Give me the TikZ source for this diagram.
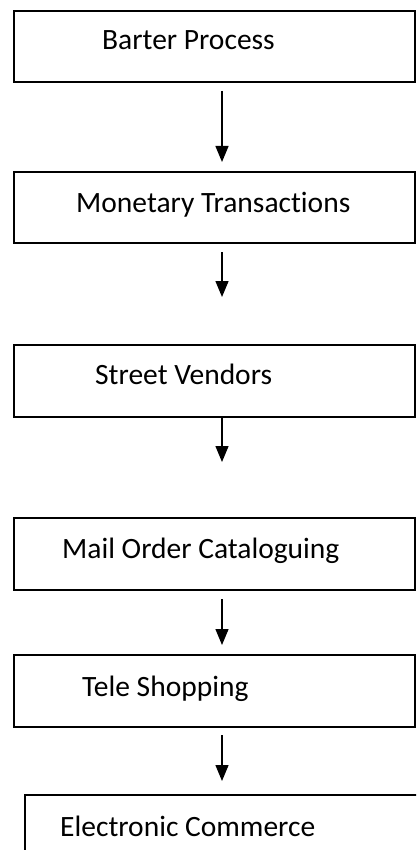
\documentclass[tikz,border=0pt]{standalone}
\usepackage{fontspec}
\setmainfont[Ligatures={NoCommon}]{Carlito}
\usetikzlibrary{arrows.meta}
\begin{document}
\begin{tikzpicture}[x=1pt,y=-1pt,
  box/.style={draw=black,line width=2pt,rectangle,inner sep=0pt},
  lbl/.style={anchor=base west,inner sep=0pt,font=\fontsize{29.5}{35}\selectfont},
  arr/.style={line width=1.4pt,-{Triangle[width=13pt,length=16pt]}}]
\useasboundingbox (0,0) rectangle (416,850);
\clip (0,0) rectangle (416,850);
\coordinate (ax) at (222,0);
\node[box,minimum width=401pt,minimum height=71pt] (b1) at (214.5,46.5) {};
\node[box,minimum width=401pt,minimum height=71pt] (b2) at (214.5,207.5) {};
\node[box,minimum width=401pt,minimum height=72pt] (b3) at (214.5,381) {};
\node[box,minimum width=401pt,minimum height=72pt] (b4) at (214.5,554) {};
\node[box,minimum width=401pt,minimum height=72pt] (b5) at (214.5,691) {};
\node[box,minimum width=410pt,minimum height=80pt] (b6) at (230,835) {};
\node[lbl] (t1) at (102,50) {Barter Process};
\node[lbl] (t2) at (76,212) {Monetary Transactions};
\node[lbl] (t3) at (95,384) {Street Vendors};
\node[lbl] (t4) at (62,558) {Mail Order Cataloguing};
\node[lbl] (t5) at (82,696) {Tele Shopping};
\node[lbl] (t6) at (60,836) {Electronic Commerce};
\draw[arr,shorten <=8pt,shorten >=9pt] (b1.south -| ax) -- (b2.north -| ax);
\draw[arr,shorten <=8pt,shorten >=47pt] (b2.south -| ax) -- (b3.north -| ax);
\draw[arr,shorten <=0pt,shorten >=55pt] (b3.south -| ax) -- (b4.north -| ax);
\draw[arr,shorten <=8pt,shorten >=9pt] (b4.south -| ax) -- (b5.north -| ax);
\draw[arr,shorten <=7pt,shorten >=13pt] (b5.south -| ax) -- (b6.north -| ax);
\end{tikzpicture}
\end{document}
